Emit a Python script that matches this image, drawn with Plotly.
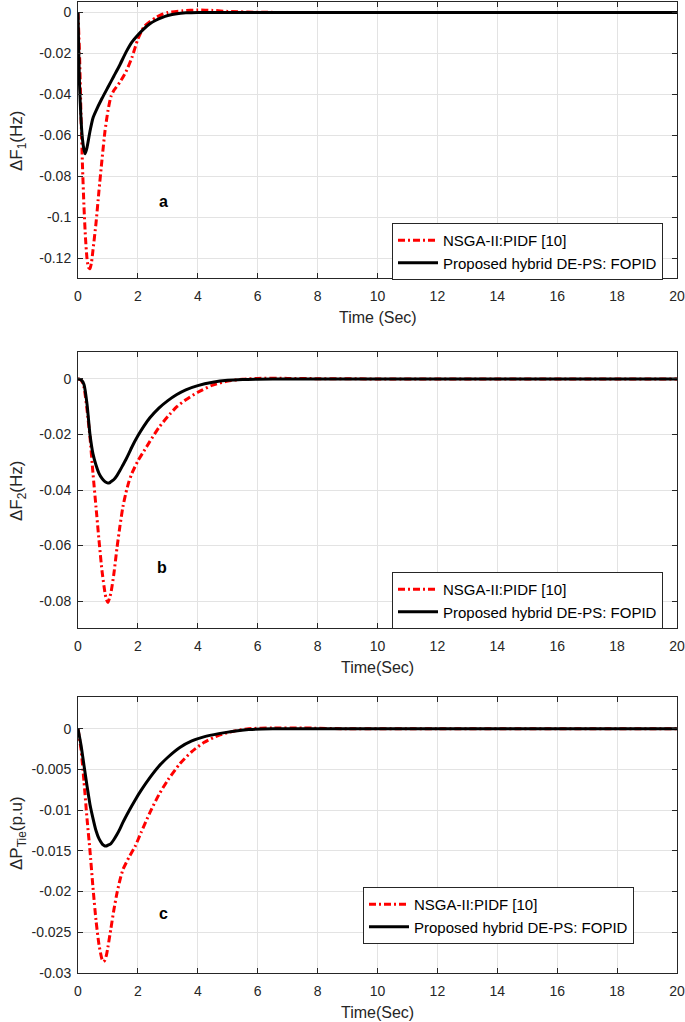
import plotly.graph_objects as go

# ---------------- data ----------------
t_a = [0, 0.02, 0.05, 0.1, 0.15, 0.2, 0.24, 0.3, 0.4, 0.5, 0.6, 0.8, 1.0, 1.2, 1.4, 1.6, 1.8, 2.0,
       2.2, 2.4, 2.6, 2.8, 3.0, 3.3, 3.6, 4.0, 4.5, 5.0, 6.0, 7.0, 8.0, 10.0, 12.0, 15.0, 20.0]
black_a = [0, -0.015, -0.035, -0.052, -0.062, -0.067, -0.069, -0.066, -0.058, -0.0515, -0.048, -0.042,
           -0.0365, -0.031, -0.0255, -0.0195, -0.0145, -0.011, -0.008, -0.0055, -0.0038, -0.0025,
           -0.0015, -0.0006, -0.0002, 0, 0, 0, 0, 0, 0, 0, 0, 0, 0]

t_a_red = [0, 0.05, 0.1, 0.15, 0.2, 0.25, 0.3, 0.35, 0.4, 0.45, 0.5, 0.6, 0.7, 0.8, 0.9, 1.0, 1.1,
           1.2, 1.4, 1.6, 1.8, 2.0, 2.2, 2.4, 2.6, 2.8, 3.0, 3.5, 4.0, 4.5, 5.0, 6.0, 7.0, 10.0, 20.0]
red_a = [0, -0.02, -0.05, -0.075, -0.095, -0.11, -0.12, -0.1245, -0.125, -0.122, -0.116, -0.103,
         -0.087, -0.072, -0.058, -0.048, -0.041, -0.038, -0.034, -0.029, -0.022, -0.013, -0.007,
         -0.0045, -0.0025, -0.001, 0, 0.0008, 0.0012, 0.001, 0.0005, 0.0001, 0, 0, 0]

t_b = [0, 0.1, 0.2, 0.3, 0.4, 0.5, 0.6, 0.7, 0.8, 0.9, 0.95, 1.0, 1.05, 1.1, 1.2, 1.3, 1.4, 1.5, 1.6,
       1.7, 1.8, 2.0, 2.2, 2.4, 2.7, 3.0, 3.3, 3.6, 4.0, 4.5, 5.0, 5.5, 6.0, 7.0, 8.0, 10.0, 20.0]
black_b = [0, -0.0003, -0.002, -0.009, -0.02, -0.027, -0.031, -0.034, -0.0358, -0.037, -0.0373,
           -0.0375, -0.0374, -0.037, -0.0362, -0.0348, -0.033, -0.031, -0.029, -0.0268, -0.0245,
           -0.0205, -0.017, -0.014, -0.0105, -0.0078, -0.0056, -0.0039, -0.0024, -0.0012, -0.0005,
           -0.0002, -0.0001, 0, 0, 0, 0]
red_b = [0, -0.0003, -0.003, -0.011, -0.021, -0.034, -0.046, -0.058, -0.069, -0.077, -0.0795,
         -0.0805, -0.079, -0.077, -0.07, -0.061, -0.053, -0.046, -0.041, -0.037, -0.034, -0.0295,
         -0.026, -0.0225, -0.0175, -0.0135, -0.01, -0.0075, -0.0048, -0.0022, -0.0008, -0.0001,
         0.0002, 0.0002, 0.0001, 0, 0]

t_c = [0, 0.1, 0.2, 0.3, 0.4, 0.5, 0.6, 0.7, 0.8, 0.85, 0.9, 0.95, 1.0, 1.1, 1.2, 1.3, 1.4, 1.5,
       1.7, 1.9, 2.1, 2.4, 2.7, 3.0, 3.4, 3.8, 4.2, 4.7, 5.2, 5.7, 6.5, 7.5, 9.0, 12.0, 20.0]
black_c = [0, -0.002, -0.0045, -0.007, -0.0093, -0.011, -0.0125, -0.0135, -0.0141, -0.0143, -0.0144,
           -0.0144, -0.0143, -0.0141, -0.0136, -0.013, -0.0123, -0.0115, -0.0101, -0.0088, -0.0076,
           -0.006, -0.0046, -0.0035, -0.0023, -0.0015, -0.001, -0.0006, -0.0003, -0.0001, 0, 0,
           0, 0, 0]
red_c = [0, -0.0025, -0.0065, -0.011, -0.015, -0.0195, -0.0235, -0.0265, -0.0283, -0.0286, -0.0284,
         -0.0278, -0.0268, -0.0245, -0.0222, -0.0202, -0.0186, -0.0173, -0.0158, -0.0145, -0.0128,
         -0.0103, -0.0081, -0.0063, -0.0043, -0.0028, -0.0017, -0.0008, -0.0003, 0, 0.0001,
         0.0001, 0, 0, 0]

x_ticks = [0, 2, 4, 6, 8, 10, 12, 14, 16, 18, 20]
y_ticks_a = [0, -0.02, -0.04, -0.06, -0.08, -0.1, -0.12]
y_ticks_b = [0, -0.02, -0.04, -0.06, -0.08]
y_ticks_c = [0, -0.005, -0.01, -0.015, -0.02, -0.025, -0.03]

name_red = "NSGA-II:PIDF [10]"
name_black = "Proposed hybrid DE-PS: FOPID"

# ---------------- figure ----------------
W, H = 685, 1022
FONT = "Arial, Liberation Sans, Helvetica, sans-serif"
RED = "#ff0000"
DASH = "7px,3px,2px,3px"

fig = go.Figure()

panels = [
    (t_a_red, red_a, t_a, black_a, "", "legend"),
    (t_b, red_b, t_b, black_b, "2", "legend2"),
    (t_c, red_c, t_c, black_c, "3", "legend3"),
]
for tr, yr, tb, yb, s, lg in panels:
    fig.add_trace(go.Scatter(x=tr, y=yr, mode="lines", name=name_red, legend=lg,
                             line=dict(color=RED, width=3, dash=DASH, shape="spline", smoothing=0.6),
                             xaxis="x" + s, yaxis="y" + s))
    fig.add_trace(go.Scatter(x=tb, y=yb, mode="lines", name=name_black, legend=lg,
                             line=dict(color="black", width=3, shape="spline", smoothing=0.6),
                             xaxis="x" + s, yaxis="y" + s))

def px_x(p):
    return p / W

def px_y(p):
    return 1 - p / H

x_dom = [px_x(78), px_x(677)]
y_doms = [[px_y(278), px_y(2)], [px_y(628), px_y(352)], [px_y(973), px_y(697)]]
y_ranges = [[-0.1296, 0.0051], [-0.0897, 0.0097], [-0.03, 0.0039]]
y_tickss = [y_ticks_a, y_ticks_b, y_ticks_c]

axis_common = dict(
    showline=True, linecolor="#262626", linewidth=1, mirror="ticks",
    ticks="inside", ticklen=5, tickcolor="#262626", tickwidth=1,
    showgrid=True, gridcolor="#e3e3e3", gridwidth=1, zeroline=False,
    tickfont=dict(family=FONT, size=14, color="#262626"),
    automargin=False,
)

layout = dict(
    width=W, height=H, margin=dict(l=0, r=0, t=0, b=0, autoexpand=False),
    paper_bgcolor="white", plot_bgcolor="white",
    font=dict(family=FONT, color="#262626"),
    showlegend=True,
)
for i, s in enumerate(["", "2", "3"]):
    layout["xaxis" + s] = dict(axis_common, domain=x_dom, range=[0, 20], tickvals=x_ticks,
                               ticktext=[str(v) for v in x_ticks], anchor="y" + s,
                               ticklabelstandoff=5)
    layout["yaxis" + s] = dict(axis_common, domain=y_doms[i], range=y_ranges[i],
                               tickvals=y_tickss[i], ticktext=[("%g" % v) for v in y_tickss[i]],
                               anchor="x" + s, ticklabelstandoff=3)

legend_common = dict(bgcolor="white", bordercolor="#262626", borderwidth=1,
                     font=dict(family=FONT, size=15, color="black"),
                     xanchor="left", yanchor="top", tracegroupgap=0, itemwidth=40)
layout["legend"] = dict(legend_common, x=px_x(392), y=px_y(223))
layout["legend2"] = dict(legend_common, x=px_x(392), y=px_y(572))
layout["legend3"] = dict(legend_common, x=px_x(363), y=px_y(887))

annotations = []
# x axis titles
for txt, yc in [("Time (Sec)", 317), ("Time(Sec)", 667), ("Time(Sec)", 1012)]:
    annotations.append(dict(text=txt, x=px_x(377.5), y=px_y(yc), xref="paper", yref="paper",
                            showarrow=False, font=dict(family=FONT, size=16, color="#262626"),
                            xanchor="center", yanchor="middle"))
# y axis titles
for txt, yc in [("ΔF<sub>1</sub>(Hz)", 141), ("ΔF<sub>2</sub>(Hz)", 491), ("ΔP<sub>Tie</sub>(p.u)", 833)]:
    annotations.append(dict(text=txt, x=px_x(18), y=px_y(yc), xref="paper", yref="paper",
                            showarrow=False, textangle=-90,
                            font=dict(family=FONT, size=17, color="#262626"),
                            xanchor="center", yanchor="middle"))
# panel letters
for txt, xc, yc in [("a", 163, 202), ("b", 162, 567), ("c", 163, 913)]:
    annotations.append(dict(text="<b>%s</b>" % txt, x=px_x(xc), y=px_y(yc), xref="paper",
                            yref="paper", showarrow=False,
                            font=dict(family=FONT, size=16, color="black"),
                            xanchor="center", yanchor="middle"))
layout["annotations"] = annotations

fig.update_layout(**layout)
fig.write_html("out.html", config={"displayModeBar": False},
               post_script="document.body.style.margin='0';document.body.style.overflow='hidden';")
